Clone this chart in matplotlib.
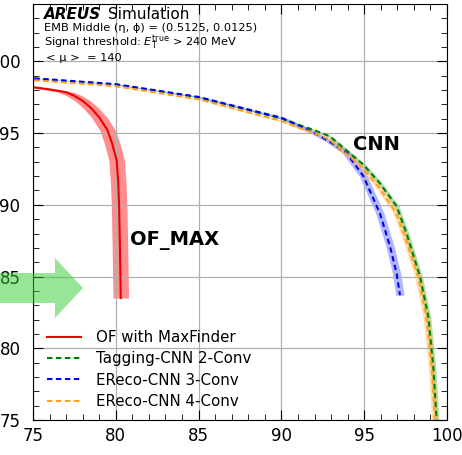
import matplotlib
matplotlib.use("Agg")
import matplotlib.pyplot as plt
from matplotlib.patches import Polygon
from matplotlib.ticker import MultipleLocator

# OF with MaxFinder
of_x = [74.0, 75.0, 76.0, 77.0, 77.5, 78.0, 78.5, 79.0, 79.5, 79.8, 80.05, 80.15, 80.2, 80.25, 80.3]
of_y = [98.35, 98.2, 98.05, 97.85, 97.6, 97.25, 96.75, 96.1, 95.2, 94.2, 93.1, 91.5, 89.9, 87.0, 83.5]
of_err = 0.47

# Tagging-CNN 2-Conv
tag_x = [74.0, 75.0, 80.0, 85.0, 90.0, 91.0, 92.0, 92.93, 94.95, 95.95, 96.96, 97.56, 98.37, 98.87, 99.17, 99.37, 99.45]
tag_y = [98.85, 98.78, 98.38, 97.48, 96.02, 95.6, 95.2, 94.77, 92.8, 91.5, 89.9, 88.0, 85.0, 82.2, 78.7, 75.0, 73.5]
tag_err = 0.15

# EReco-CNN 3-Conv
e3_x = [74.0, 75.0, 80.0, 85.0, 90.0, 91.0, 92.0, 92.93, 93.94, 94.95, 95.95, 96.56, 96.96, 97.16]
e3_y = [98.9, 98.83, 98.41, 97.52, 96.07, 95.55, 95.0, 94.4, 93.6, 92.0, 89.4, 87.1, 85.2, 83.7]
e3_err = 0.25

# EReco-CNN 4-Conv
e4_x = [74.0, 75.0, 80.0, 85.0, 90.0, 91.0, 92.0, 92.9, 94.9, 95.9, 96.9, 97.45, 98.25, 98.75, 99.07, 99.27, 99.35]
e4_y = [98.75, 98.69, 98.27, 97.36, 95.85, 95.4, 95.0, 94.55, 92.6, 91.2, 89.5, 87.8, 85.0, 82.2, 78.7, 75.0, 73.5]
e4_err = 0.2

W, H = 462, 455
fig = plt.figure(figsize=(W / 100, H / 100), dpi=100)
ax = fig.add_axes([33 / W, 35 / H, 414 / W, 416 / H])

def band(x, y, err, color, alpha):
    lo = [v - err for v in x]
    hi = [v + err for v in x]
    ax.fill_betweenx(y, lo, hi, color=color, alpha=alpha, lw=0)

band(of_x, of_y, of_err, "#ff3030", 0.55)
band(tag_x, tag_y, tag_err, "#40b040", 0.4)
band(e3_x, e3_y, e3_err, "#5060ff", 0.45)
band(e4_x, e4_y, e4_err, "#ffb040", 0.4)

ax.plot(of_x, of_y, color="#ee0000", lw=1.5, label="OF with MaxFinder")
ax.plot(tag_x, tag_y, color="#008000", lw=1.5, ls=(0, (2.6, 1.7)), label="Tagging-CNN 2-Conv")
ax.plot(e3_x, e3_y, color="#0000ee", lw=1.5, ls=(0, (2.6, 1.7)), label="EReco-CNN 3-Conv")
ax.plot(e4_x, e4_y, color="#ffa020", lw=1.5, ls=(0, (2.6, 1.7)), label="EReco-CNN 4-Conv")

ax.set_xlim(75, 100)
ax.set_ylim(75, 104)
ax.xaxis.set_major_locator(MultipleLocator(5))
ax.yaxis.set_major_locator(MultipleLocator(5))
ax.xaxis.set_minor_locator(MultipleLocator(1))
ax.yaxis.set_minor_locator(MultipleLocator(1))
ax.tick_params(which="both", direction="in", top=True, right=True, labelsize=12)
ax.tick_params(which="major", length=7)
ax.tick_params(which="minor", length=4)
ax.tick_params(axis="y", pad=9)
ax.tick_params(axis="x", pad=5)
ax.grid(True, which="major", color="#b0b0b0", lw=0.9)
ax.set_xlabel("Signal efficiency [%]", loc="right", fontsize=12, labelpad=9)

t = ax.text(0.027, 0.963, "AREUS", transform=ax.transAxes, fontsize=11,
            fontweight="bold", fontstyle="italic", va="baseline")
ax.annotate("Simulation", xy=(1, 0), xycoords=t, xytext=(5, 0),
            textcoords="offset points", fontsize=11, va="bottom")
ax.text(0.027, 0.934, "EMB Middle (η, ϕ) = (0.5125, 0.0125)",
        transform=ax.transAxes, fontsize=8.2, va="baseline")
ax.text(0.027, 0.899, r"Signal threshold: $E_{\mathrm{T}}^{\mathrm{true}}$ > 240 MeV",
        transform=ax.transAxes, fontsize=8.2, va="baseline")
ax.text(0.032, 0.863, "< μ >  = 140", transform=ax.transAxes, fontsize=8.2, va="baseline")

ax.text(80.85, 87.5, "OF_MAX", fontsize=14, fontweight="bold", va="center")
ax.text(94.3, 94.2, "CNN", fontsize=14, fontweight="bold", va="center")

ax.legend(loc="lower left", bbox_to_anchor=(0.012, 0.005), frameon=False,
          fontsize=10.8, handlelength=2.3, handletextpad=1.0, labelspacing=0.42,
          borderaxespad=0.2)

# green arrow overlay on the left
pts = [(-5, 273), (55, 273), (55, 258), (83, 288), (55, 318), (55, 303), (-5, 303)]
arrow = Polygon([(x / W, 1 - y / H) for x, y in pts], closed=True,
                transform=fig.transFigure, facecolor="limegreen", alpha=0.5,
                edgecolor="none", zorder=10)
fig.patches.append(arrow)

fig.savefig("out.png", dpi=100)
